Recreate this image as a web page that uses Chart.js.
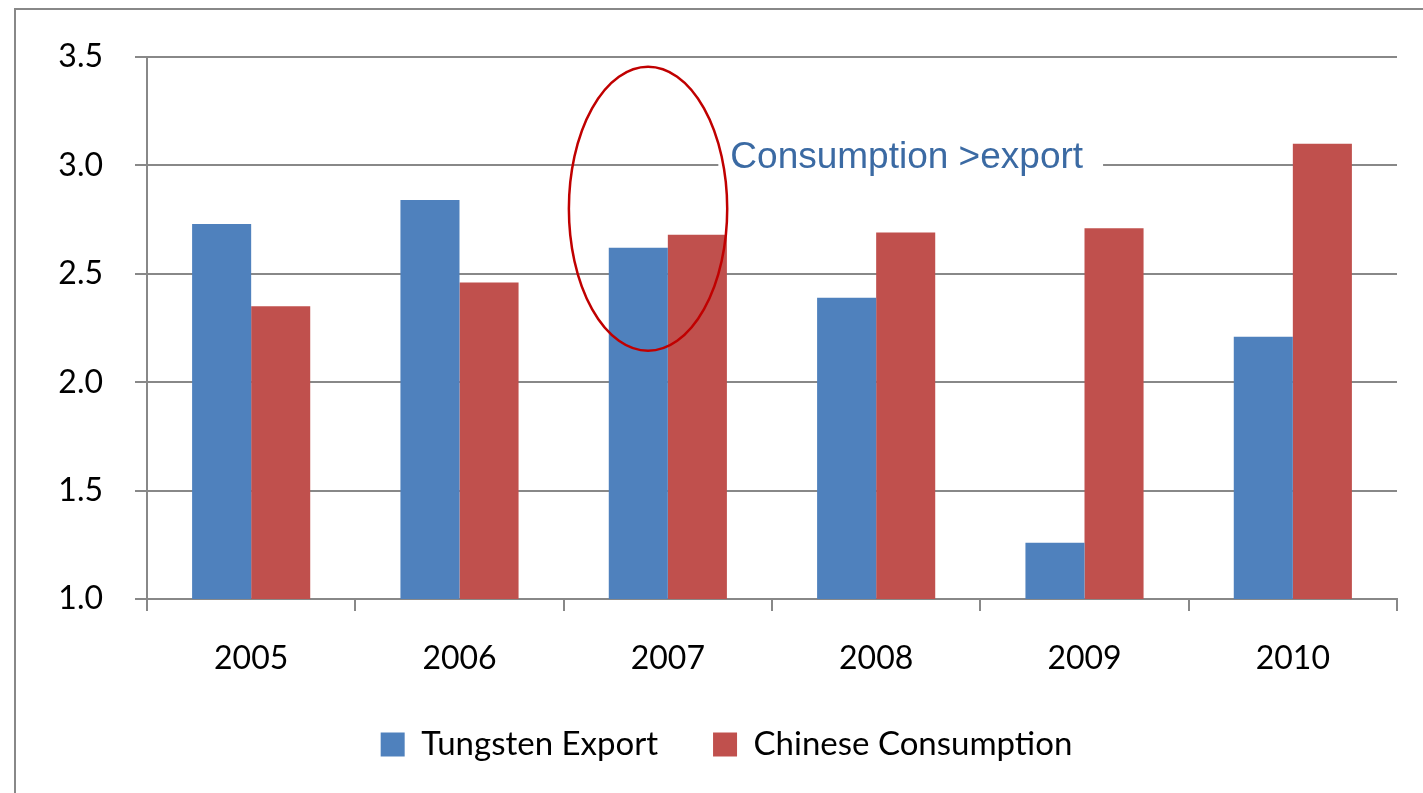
<!DOCTYPE html>
<html>
<head>
<meta charset="utf-8">
<script src="https://cdn.jsdelivr.net/npm/chart.js@4/dist/chart.umd.min.js"></script>
<style>
  html, body { margin: 0; padding: 0; background: #fff; }
  #wrap { width: 1423px; height: 793px; position: relative; }
</style>
</head>
<body>
<div id="wrap"><canvas id="chart" width="1423" height="793"></canvas></div>
<script>
// Data
const years = ['2005', '2006', '2007', '2008', '2009', '2010'];
const tungstenExport = [2.73, 2.84, 2.62, 2.39, 1.26, 2.21];
const chineseConsumption = [2.35, 2.46, 2.68, 2.69, 2.71, 3.10];
const yTicks = [1.0, 1.5, 2.0, 2.5, 3.0, 3.5];
const noteText = 'Consumption >export';

const GRID = '#888888';
const FONT = 'Lato, "Open Sans", sans-serif';

// Outer frame of the chart box (cut off at right / bottom)
const framePlugin = {
    id: 'frame',
    beforeDraw(chart) {
        const ctx = chart.ctx;
        ctx.save();
        ctx.fillStyle = '#fff';
        ctx.fillRect(0, 0, chart.width, chart.height);
        ctx.strokeStyle = GRID;
        ctx.lineWidth = 2;
        ctx.beginPath();
        ctx.moveTo(15, chart.height + 5);
        ctx.lineTo(15, 9);
        ctx.lineTo(chart.width + 5, 9);
        ctx.stroke();
        ctx.restore();
    }
};

// Red ellipse round 2007 and the blue note text
const notePlugin = {
    id: 'note',
    afterDatasetsDraw(chart) {
        const ctx = chart.ctx;
        const x = chart.scales.x;
        const y = chart.scales.y;
        const cat = x.getPixelForValue(1) - x.getPixelForValue(0);

        // note text with white background over the gridline
        ctx.save();
        ctx.font = '37px "Liberation Sans", Arial, sans-serif';
        ctx.textBaseline = 'alphabetic';
        const tx = x.getPixelForValue(2) + cat * 0.3;
        const ty = y.getPixelForValue(3.0) + 3;
        const w = ctx.measureText(noteText).width;
        ctx.fillStyle = '#fff';
        ctx.fillRect(tx - 12, ty - 34, w + 32, 44);
        ctx.fillStyle = '#3b6aa3';
        ctx.fillText(noteText, tx, ty);
        ctx.restore();

        // ellipse
        const cx = x.getPixelForValue(2) - cat * 0.095;
        const top = y.getPixelForValue(3.455);
        const bottom = y.getPixelForValue(2.145);
        ctx.save();
        ctx.strokeStyle = '#c00000';
        ctx.lineWidth = 2.5;
        ctx.beginPath();
        ctx.ellipse(cx, (top + bottom) / 2, cat * 0.38, (bottom - top) / 2, 0, 0, Math.PI * 2);
        ctx.stroke();
        ctx.restore();
    }
};

new Chart(document.getElementById('chart'), {
    type: 'bar',
    data: {
        labels: years,
        datasets: [{
            label: 'Tungsten Export',
            data: tungstenExport,
            backgroundColor: '#4f81bd',
            borderWidth: 0
        }, {
            label: 'Chinese Consumption',
            data: chineseConsumption,
            backgroundColor: '#c0504d',
            borderWidth: 0
        }]
    },
    options: {
        responsive: false,
        animation: false,
        layout: { padding: { top: 57, left: 56, right: 26, bottom: 22 } },
        plugins: {
            tooltip: { enabled: false },
            legend: {
                position: 'bottom',
                labels: {
                    color: '#000',
                    font: { family: FONT, size: 33 },
                    boxWidth: 24,
                    boxHeight: 24,
                    padding: 55
                }
            }
        },
        datasets: {
            bar: { categoryPercentage: 0.567, barPercentage: 1 }
        },
        scales: {
            x: {
                grid: { drawOnChartArea: false, drawTicks: true, tickLength: 12, color: GRID, lineWidth: 2 },
                border: { display: true, color: GRID, width: 2 },
                ticks: { color: '#000', font: { family: FONT, size: 32 }, padding: 28 },
                afterFit(scale) { scale.height = 74; }
            },
            y: {
                min: 1,
                max: 3.5,
                afterBuildTicks(scale) { scale.ticks = yTicks.map(v => ({ value: v })); },
                grid: { color: GRID, lineWidth: 2, tickLength: 12, drawTicks: true },
                border: { display: true, color: GRID, width: 2 },
                ticks: {
                    color: '#000',
                    font: { family: FONT, size: 32 },
                    padding: 32,
                    callback: v => v.toFixed(1)
                },
                afterFit(scale) { scale.width = 91; }
            }
        }
    },
    plugins: [framePlugin, notePlugin]
});
</script>
</body>
</html>
